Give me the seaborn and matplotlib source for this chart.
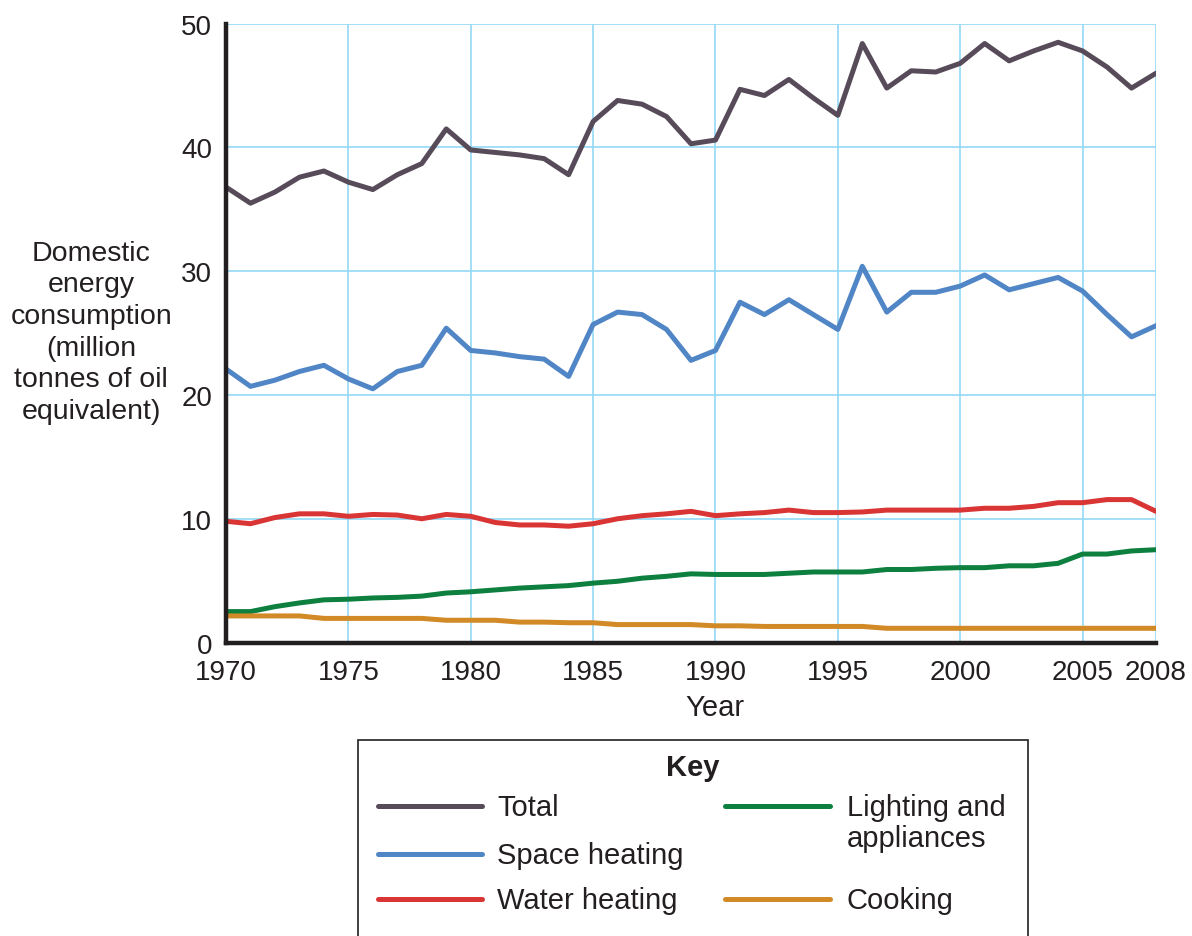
import pandas as pd
import matplotlib.pyplot as plt
import seaborn as sns
from matplotlib.lines import Line2D
from matplotlib.patches import Rectangle


# --- DATA ---
YEARS = list(range(1970, 2009))

TOTAL = [36.8, 35.5, 36.4, 37.6, 38.1, 37.2, 36.6, 37.8, 38.7, 41.5,
         39.8, 39.6, 39.4, 39.1, 37.8, 42.1, 43.8, 43.5, 42.5, 40.3,
         40.6, 44.7, 44.2, 45.5, 44.0, 42.6, 48.4, 44.8, 46.2, 46.1,
         46.8, 48.4, 47.0, 47.8, 48.5, 47.8, 46.5, 44.8, 46.0]

SPACE_HEATING = [22.1, 20.7, 21.2, 21.9, 22.4, 21.3, 20.5, 21.9, 22.4, 25.4,
                 23.6, 23.4, 23.1, 22.9, 21.5, 25.7, 26.7, 26.5, 25.3, 22.8,
                 23.6, 27.5, 26.5, 27.7, 26.5, 25.3, 30.4, 26.7, 28.3, 28.3,
                 28.8, 29.7, 28.5, 29.0, 29.5, 28.4, 26.5, 24.7, 25.6]

WATER_HEATING = [9.8, 9.6, 10.1, 10.4, 10.4, 10.2, 10.35, 10.3, 10.0, 10.35,
                 10.2, 9.7, 9.5, 9.5, 9.4, 9.6, 10.0, 10.25, 10.4, 10.6,
                 10.25, 10.4, 10.5, 10.7, 10.5, 10.5, 10.55, 10.7, 10.7, 10.7,
                 10.7, 10.85, 10.85, 11.0, 11.3, 11.3, 11.55, 11.55, 10.6]

LIGHTING = [2.5, 2.5, 2.9, 3.2, 3.45, 3.5, 3.6, 3.65, 3.75, 4.0,
            4.1, 4.25, 4.4, 4.5, 4.6, 4.8, 4.95, 5.2, 5.35, 5.55,
            5.5, 5.5, 5.5, 5.6, 5.7, 5.7, 5.7, 5.9, 5.9, 6.0,
            6.05, 6.05, 6.2, 6.2, 6.4, 7.15, 7.15, 7.4, 7.5]

COOKING = [2.15, 2.15, 2.15, 2.15, 1.95, 1.95, 1.95, 1.95, 1.95, 1.8,
           1.8, 1.8, 1.65, 1.65, 1.6, 1.6, 1.45, 1.45, 1.45, 1.45,
           1.35, 1.35, 1.3, 1.3, 1.3, 1.3, 1.3, 1.15, 1.15, 1.15,
           1.15, 1.15, 1.15, 1.15, 1.15, 1.15, 1.15, 1.15, 1.15]

SERIES = ["Total", "Space heating", "Water heating", "Lighting and appliances", "Cooking"]
COLORS = {
    "Total": "#574b5a",
    "Space heating": "#5186c6",
    "Water heating": "#d93535",
    "Lighting and appliances": "#0d7f3f",
    "Cooking": "#d18a26",
}

X_TICKS = [1970, 1975, 1980, 1985, 1990, 1995, 2000, 2005, 2008]
Y_TICKS = [0, 10, 20, 30, 40, 50]

GRID_COLOR = "#92d9f6"
TEXT_COLOR = "#231f20"


def main():
    df = pd.DataFrame({
        "Year": YEARS,
        "Total": TOTAL,
        "Space heating": SPACE_HEATING,
        "Water heating": WATER_HEATING,
        "Lighting and appliances": LIGHTING,
        "Cooking": COOKING,
    })
    long = df.melt(id_vars="Year", var_name="series", value_name="value")

    sns.set_style("white")
    plt.rcParams["font.family"] = ["Liberation Sans", "DejaVu Sans"]

    fig = plt.figure(figsize=(11.92, 9.37), dpi=100)
    ax = fig.add_axes([0.1896, 0.3132, 0.7802, 0.6604])

    sns.lineplot(data=long, x="Year", y="value", hue="series", hue_order=SERIES,
                 palette=COLORS, linewidth=3.6, legend=False, ax=ax)

    ax.set_xlim(1970, 2008)
    ax.set_ylim(0, 50)
    ax.set_xticks(X_TICKS)
    ax.set_yticks(Y_TICKS)
    ax.grid(True, color=GRID_COLOR, linewidth=1.2)
    ax.set_axisbelow(True)

    for side in ["top", "right"]:
        ax.spines[side].set_visible(False)
    for side in ["left", "bottom"]:
        ax.spines[side].set_color(TEXT_COLOR)
        ax.spines[side].set_linewidth(3.2)

    ax.tick_params(axis="both", direction="out", length=7, width=1.3,
                   color="#555555", labelsize=20, labelcolor=TEXT_COLOR)
    ax.tick_params(axis="x", pad=5)
    ax.tick_params(axis="y", pad=3)

    ax.set_xlabel("Year", fontsize=21, color=TEXT_COLOR, va="center")
    ax.xaxis.set_label_coords(0.526, -0.104)
    ax.set_ylabel("Domestic\nenergy\nconsumption\n(million\ntonnes of oil\nequivalent)",
                  fontsize=20.5, color=TEXT_COLOR, rotation=0, ha="center", va="center",
                  linespacing=1.28)
    ax.yaxis.set_label_coords(-0.145, 0.502)

    # --- Key box (drawn by hand to keep the original two-column layout) ---
    W, H = 1192.0, 937.0

    def fx(px):
        return px / W

    def fy(py):
        return 1 - py / H

    fig.add_artist(Rectangle((fx(358), fy(960)), fx(1028) - fx(358), fy(741) - fy(960),
                             transform=fig.transFigure, facecolor="none",
                             edgecolor=TEXT_COLOR, linewidth=1.2, clip_on=False))
    fig.text(fx(693), fy(768), "Key", fontsize=21, fontweight="bold",
             ha="center", va="center", color=TEXT_COLOR)

    key_items = [
        ("Total", 378, 482, 497, 807, ["Total"]),
        ("Space heating", 378, 482, 497, 855, ["Space heating"]),
        ("Water heating", 378, 482, 497, 900, ["Water heating"]),
        ("Lighting and appliances", 725, 830, 847, 807, ["Lighting and", "appliances"]),
        ("Cooking", 725, 830, 847, 900, ["Cooking"]),
    ]
    for name, x0, x1, xt, y, lines in key_items:
        fig.add_artist(Line2D([fx(x0), fx(x1)], [fy(y), fy(y)], transform=fig.transFigure,
                              color=COLORS[name], linewidth=3.6, solid_capstyle="round"))
        for i, txt in enumerate(lines):
            fig.text(fx(xt), fy(y + 9 + 31 * i), txt, fontsize=21, ha="left",
                     va="baseline", color=TEXT_COLOR)

    fig.savefig("out.png", dpi=100)


if __name__ == "__main__":
    main()
